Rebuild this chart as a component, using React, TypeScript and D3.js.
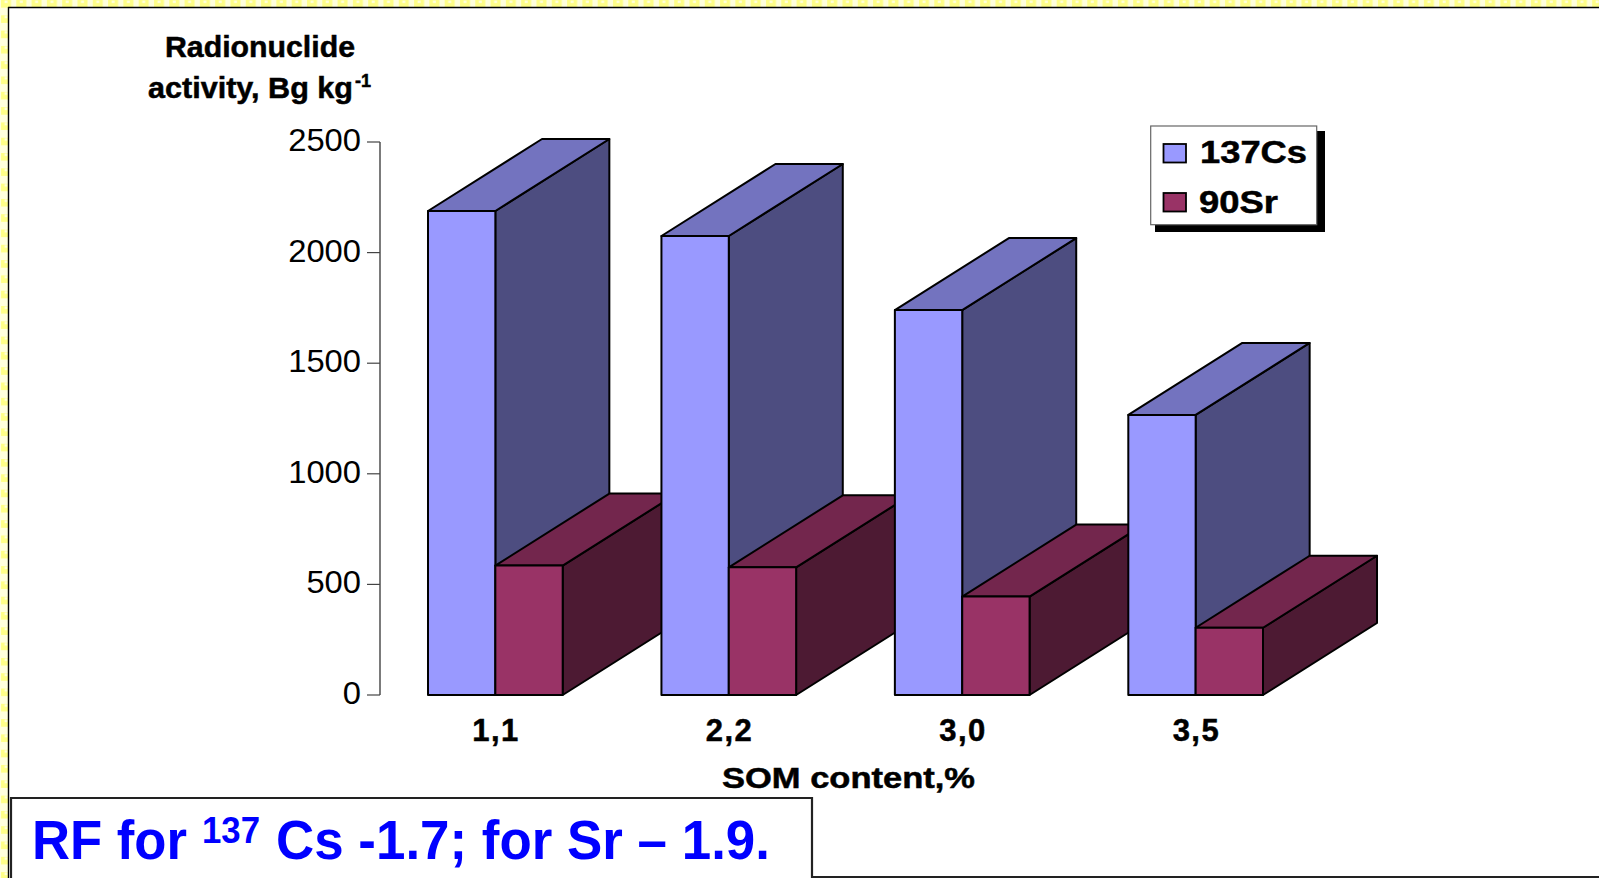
import React from "react";
import * as d3 from "d3";

// Soil organic matter classes and measured activities
const somClasses = ["1,1", "2,2", "3,0", "3,5"];
const cs137 = [2188, 2075, 1740, 1266];
const sr90 = [585, 577, 445, 304];
const yTicks = [0, 500, 1000, 1500, 2000, 2500];
const seriesNames = ["137Cs", "90Sr"];

const WIDTH = 1599;
const HEIGHT = 878;
const DEPTH_X = 114;
const DEPTH_Y = 72;
const SANS = "'Liberation Sans', Arial, sans-serif";

const palette = {
  cs: { front: "#9999FF", top: "#7373BF", side: "#4D4D80" },
  sr: { front: "#993366", top: "#73264D", side: "#4D1A33" },
};

const y = d3.scaleLinear().domain([0, 2500]).range([695, 142]);
const xGroup = d3
  .scaleBand<string>()
  .domain(somClasses)
  .range([428, 1263])
  .paddingInner(0.423)
  .paddingOuter(0);
const xSeries = d3
  .scaleBand<string>()
  .domain(seriesNames)
  .range([0, xGroup.bandwidth()]);

const poly = d3.line<[number, number]>().curve(d3.curveLinearClosed);

// One extruded bar: side and top faces first, front face over them
function Bar3D({ x, w, value, colors }: { x: number; w: number; value: number; colors: { front: string; top: string; side: string } }) {
  const t = y(value);
  const b = y(0);
  const r = x + w;
  const side = poly([
    [r, t],
    [r + DEPTH_X, t - DEPTH_Y],
    [r + DEPTH_X, b - DEPTH_Y],
    [r, b],
  ]) as string;
  const top = poly([
    [x, t],
    [x + DEPTH_X, t - DEPTH_Y],
    [r + DEPTH_X, t - DEPTH_Y],
    [r, t],
  ]) as string;
  const common = { stroke: "#000", strokeWidth: 2, strokeLinejoin: "round" as const };
  return (
    <g>
      <path d={side} fill={colors.side} {...common} />
      <path d={top} fill={colors.top} {...common} />
      <rect x={x} y={t} width={w} height={b - t} fill={colors.front} {...common} />
    </g>
  );
}

export default function App() {
  return (
    <svg
      width={WIDTH}
      height={HEIGHT}
      viewBox={`0 0 ${WIDTH} ${HEIGHT}`}
      style={{ position: "fixed", left: 0, top: 0, display: "block", background: "#fff" }}
      fontFamily={SANS}
    >
      <defs>
        <pattern id="edge" width={15.3} height={15.3} patternUnits="userSpaceOnUse">
          <rect width={15.3} height={15.3} fill="#FFFFDD" />
          <rect x={1} y={0} width={10} height={7.6} fill="#FFFF88" />
          <rect x={4.5} y={0.5} width={3} height={2.5} fill="#FFFFDD" />
          <rect x={8.5} y={7.6} width={6.8} height={7.7} fill="#FFFF88" />
        </pattern>
      </defs>

      {/* Patterned slide edge and frame */}
      <rect x={0} y={0} width={WIDTH} height={7} fill="url(#edge)" />
      <rect x={0} y={0} width={8} height={HEIGHT} fill="url(#edge)" />
      <line x1={8} y1={7.5} x2={WIDTH} y2={7.5} stroke="#000" strokeWidth={1.6} />
      <line x1={8.5} y1={7} x2={8.5} y2={HEIGHT} stroke="#000" strokeWidth={1.4} />

      {/* Value axis */}
      <line x1={380} y1={y(2500)} x2={380} y2={y(0)} stroke="#222" strokeWidth={1.2} />
      {yTicks.map((v) => (
        <g key={v}>
          <line x1={367} y1={y(v)} x2={380} y2={y(v)} stroke="#444" strokeWidth={1.2} />
          <text
            x={361}
            y={y(v) + 9}
            textAnchor="end"
            fontSize={32}
            fill="#000"
            textLength={String(v).length * 18.2}
            lengthAdjust="spacingAndGlyphs"
          >
            {v}
          </text>
        </g>
      ))}

      {/* Bars, left to right so nearer groups overlap the previous depth faces */}
      {somClasses.map((c, i) => (
        <g key={c}>
          <Bar3D
            x={(xGroup(c) as number) + (xSeries("137Cs") as number)}
            w={xSeries.bandwidth()}
            value={cs137[i]}
            colors={palette.cs}
          />
          <Bar3D
            x={(xGroup(c) as number) + (xSeries("90Sr") as number)}
            w={xSeries.bandwidth()}
            value={sr90[i]}
            colors={palette.sr}
          />
        </g>
      ))}

      {/* Bold labels share a hairline outline for extra weight */}
      <g fontWeight="bold" fill="#000" stroke="#000" strokeWidth={0.5}>
        {somClasses.map((c) => (
          <text
            key={c}
            x={(xGroup(c) as number) + xGroup.bandwidth() / 2}
            y={741}
            textAnchor="middle"
            fontSize={31}
            textLength={46}
            lengthAdjust="spacing"
          >
            {c}
          </text>
        ))}

        <text x={165} y={57} fontSize={29} textLength={190} lengthAdjust="spacingAndGlyphs">
          Radionuclide
        </text>
        <text x={148} y={98} fontSize={29} textLength={205} lengthAdjust="spacingAndGlyphs">
          activity, Bg kg
        </text>
        <text x={355} y={87} fontSize={18}>
          -1
        </text>
        <text x={722} y={788} fontSize={29} textLength={253} lengthAdjust="spacingAndGlyphs">
          SOM content,%
        </text>
      </g>

      {/* Legend */}
      <rect x={1155} y={131} width={170} height={101} fill="#000" />
      <rect x={1150.7} y={126} width={166} height={98.7} fill="#fff" stroke="#666" strokeWidth={1.2} />
      <rect x={1163.5} y={144} width={22.5} height={18.5} fill={palette.cs.front} stroke="#000" strokeWidth={1.8} />
      <rect x={1163.5} y={193} width={22.5} height={18.5} fill={palette.sr.front} stroke="#000" strokeWidth={1.8} />
      <g fontWeight="bold" fill="#000" stroke="#000" strokeWidth={0.5}>
        <text x={1200} y={163} fontSize={31} textLength={107} lengthAdjust="spacingAndGlyphs">
          {seriesNames[0]}
        </text>
        <text x={1199} y={213} fontSize={31} textLength={79} lengthAdjust="spacingAndGlyphs">
          {seriesNames[1]}
        </text>
      </g>

      {/* Reduction factor note */}
      <path d="M11 878 V798 H812 V877.2 H1599" fill="none" stroke="#222" strokeWidth={2.2} />
      <g fill="#0000FF" fontWeight="bold">
        <text x={32} y={859} fontSize={56} textLength={155} lengthAdjust="spacingAndGlyphs">
          RF for
        </text>
        <text x={202} y={843} fontSize={36} textLength={58} lengthAdjust="spacingAndGlyphs">
          137
        </text>
        <text x={276} y={859} fontSize={56} textLength={494} lengthAdjust="spacingAndGlyphs">
          Cs -1.7; for Sr – 1.9.
        </text>
      </g>
    </svg>
  );
}
